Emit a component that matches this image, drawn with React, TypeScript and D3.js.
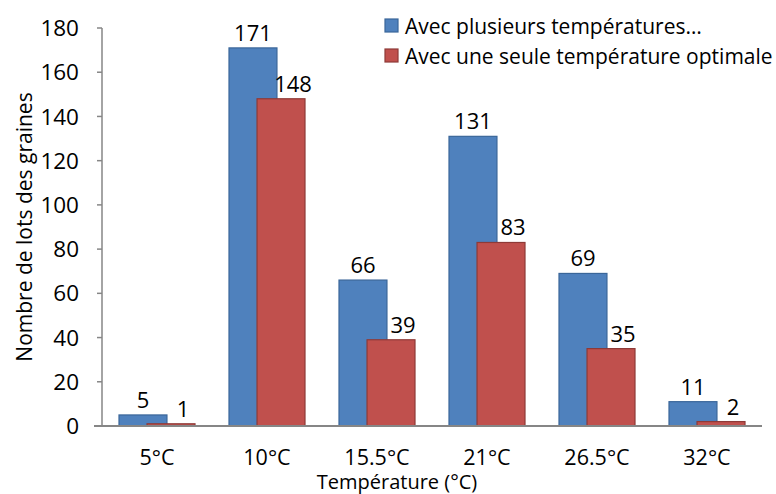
import React from "react";
import * as d3 from "d3";

const categories = ["5°C", "10°C", "15.5°C", "21°C", "26.5°C", "32°C"];
const seriesNames = ["Avec plusieurs températures…", "Avec une seule température optimale"];
const multiTemp = [5, 171, 66, 131, 69, 11];
const singleTemp = [1, 148, 39, 83, 35, 2];
const yTicks = [0, 20, 40, 60, 80, 100, 120, 140, 160, 180];
const xTitle = "Température (°C)";
const yTitle = "Nombre de lots des graines";

const W = 776;
const H = 494;
const FONT = "'Open Sans', 'Noto Sans', sans-serif";
const BLUE = "#4F81BD";
const BLUE_S = "#3A6699";
const RED = "#C0504D";
const RED_S = "#8E3A37";
const AXIS = "#868686";

export default function App() {
  const left = 102;
  const right = 762;
  const top = 28;
  const bottom = 426;

  const x = d3.scaleBand<string>().domain(categories).range([left, right]).padding(0);
  const y = d3.scaleLinear().domain([0, 180]).range([bottom, top]);
  const bw = x.bandwidth();
  const barW = bw * 0.436;
  const offset = bw * 0.255; // distance between bar starts (overlap)
  const groupW = barW + offset;

  const series = [
    { name: seriesNames[0], values: multiTemp, fill: BLUE, stroke: BLUE_S },
    { name: seriesNames[1], values: singleTemp, fill: RED, stroke: RED_S },
  ];

  return (
    <svg width={W} height={H} style={{ position: "absolute", left: 0, top: 0, background: "#fff" }}>
      <rect x={0} y={0} width={W} height={H} fill="#fff" />
      {/* y ticks */}
      {yTicks.map((t) => (
        <g key={t}>
          <line x1={left - 5} x2={left} y1={y(t)} y2={y(t)} stroke={AXIS} strokeWidth={1.5} />
          <text x={left - 23} y={y(t)} dy="0.36em" textAnchor="end" fontFamily={FONT} fontSize={22.5} fill="#000">
            {t}
          </text>
        </g>
      ))}
      {/* bars */}
      {series.map((s, si) =>
        categories.map((c, i) => {
          const cx = (x(c) as number) + bw / 2;
          const bx = cx - groupW / 2 + si * offset;
          const v = s.values[i];
          return (
            <rect
              key={s.name + c}
              x={bx}
              y={y(v)}
              width={barW}
              height={bottom - y(v)}
              fill={s.fill}
              stroke={s.stroke}
              strokeWidth={1.2}
            />
          );
        })
      )}
      {/* axes */}
      <line x1={left} x2={left} y1={top} y2={bottom} stroke={AXIS} strokeWidth={1.5} />
      <line x1={left - 8} x2={right} y1={bottom} y2={bottom} stroke={AXIS} strokeWidth={2} />
      {/* value labels */}
      {series.map((s, si) =>
        categories.map((c, i) => {
          const cx = (x(c) as number) + bw / 2;
          const bx = cx - groupW / 2 + si * offset;
          const v = s.values[i];
          const lx = si === 0 ? bx + barW / 2 : bx + barW / 2 + 12;
          return (
            <text
              key={"l" + s.name + c}
              x={lx}
              y={y(v) - 7}
              textAnchor="middle"
              fontFamily={FONT}
              fontSize={22}
              fill="#000"
            >
              {v}
            </text>
          );
        })
      )}
      {/* category labels */}
      {categories.map((c) => (
        <text
          key={"c" + c}
          x={(x(c) as number) + bw / 2}
          y={465}
          textAnchor="middle"
          fontFamily={FONT}
          fontSize={21.5}
          fill="#000"
        >
          {c}
        </text>
      ))}
      {/* axis titles */}
      <text x={397} y={489} textAnchor="middle" fontFamily={FONT} fontSize={20} fill="#000">
        {xTitle}
      </text>
      <text
        transform={`translate(32, ${(top + bottom) / 2}) rotate(-90)`}
        textAnchor="middle"
        fontFamily={FONT}
        fontSize={21}
        fill="#000"
      >
        {yTitle}
      </text>
      {/* legend */}
      {series.map((s, si) => (
        <g key={"lg" + s.name} transform={`translate(385, ${19 + si * 30})`}>
          <rect x={0} y={0} width={13} height={13} fill={s.fill} stroke={s.stroke} strokeWidth={1.2} />
          <text x={20} y={7} dy="0.36em" fontFamily={FONT} fontSize={21} fill="#000">
            {s.name}
          </text>
        </g>
      ))}
    </svg>
  );
}
